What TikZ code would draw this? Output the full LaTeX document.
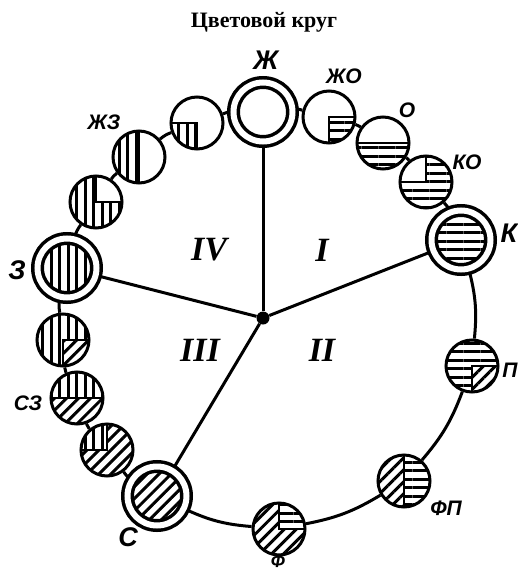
\documentclass[tikz,border=0pt]{standalone}
\usepackage{fontspec}
\setmainfont{Liberation Serif}
\newfontfamily\lblfont{Liberation Sans}
\usepackage{tikz}
\usetikzlibrary{patterns.meta,backgrounds}

% hatching of one part of a circle
\newcommand\hatchpart[4][]{%
  \fill[white] (path picture bounding box.#3) rectangle (path picture bounding box.#4);
  \path[pattern={Lines[angle=#2,distance=8.5pt,line width=3pt]},#1]
    (path picture bounding box.#3) rectangle (path picture bounding box.#4);}
\newcommand\blankpart[2]{%
  \fill[white,draw=black,line width=2.5pt]
    (path picture bounding box.#1) rectangle (path picture bounding box.#2);}

\begin{document}
\begin{tikzpicture}
        [
            x = 1pt, y = 1pt,
            mixc/.style = {circle, draw, fill=white, line width=3pt, inner sep=0pt, minimum size=52pt},
            mainc/.style = {circle, draw, fill=white, double=white, double distance=6pt,
                            line width=3.5pt, inner sep=0pt, minimum size=59pt},
            qline/.style = {draw=black, line width=2.5pt},
            ring/.style = {line width=3pt},
            lbl/.style = {font=\lblfont\bfseries\itshape\fontsize{21}{21}\selectfont, inner sep=0pt},
            biglbl/.style = {font=\lblfont\bfseries\itshape\fontsize{27}{27}\selectfont, inner sep=0pt},
            part/.style = {font=\bfseries\itshape\fontsize{34}{34}\selectfont, inner sep=0pt}
        ]
        \useasboundingbox (0,0) rectangle (518,-573);

        \node[font=\bfseries\fontsize{22}{22}\selectfont] (title) at (264,-22) {Цветовой круг};

        % colours round the ring
        \node[mainc] (Zh) at (263,-112) {};
        \node[mixc, path picture={\hatchpart[qline]{0}{center}{south east}}] (ZhO) at (329,-117) {};
        \node[mixc, path picture={\hatchpart[qline]{0}{west}{south east}}] (Or) at (383,-143) {};
        \node[mixc, path picture={\hatchpart{0}{north west}{south east}\blankpart{center}{north west}}] (KO) at (426,-182) {};
        \node[mainc, path picture={\hatchpart{0}{north west}{south east}}] (K) at (461,-240) {};
        \node[mixc, path picture={\hatchpart{0}{north west}{south east}\hatchpart[qline]{45}{center}{south east}}] (P) at (472,-366) {};
        \node[mixc, path picture={\hatchpart{0}{north west}{south east}\hatchpart[qline]{45}{north west}{south}}] (FP) at (404,-481) {};
        \node[mixc, path picture={\hatchpart{45}{north west}{south east}\hatchpart[qline]{0}{center}{north east}}] (F) at (279,-529) {};
        \node[mainc, path picture={\hatchpart{45}{north west}{south east}}] (S) at (157,-496) {};
        \node[mixc, path picture={\hatchpart{45}{north west}{south east}\hatchpart[qline]{90}{center}{north west}}] (SSZ) at (107,-450) {};
        \node[mixc, path picture={\hatchpart{45}{north west}{south east}\hatchpart[qline]{90}{west}{north east}}] (SZ) at (77,-398) {};
        \node[mixc, path picture={\hatchpart{90}{north west}{south east}\hatchpart[qline]{45}{center}{south east}}] (ZSZ) at (63,-340) {};
        \node[mainc, path picture={\hatchpart{90}{north west}{south east}}] (Z) at (67,-268) {};
        \node[mixc, path picture={\hatchpart{90}{north west}{south east}\blankpart{center}{north east}}] (ZZhZ) at (96,-202) {};
        \node[mixc, path picture={\hatchpart[qline]{90}{north west}{south}}] (ZhZ) at (139,-157) {};
        \node[mixc, path picture={\hatchpart[qline]{90}{center}{south west}}] (ZhZhZ) at (197,-123) {};

        \node[circle, fill, inner sep=0pt, minimum size=13pt] (ctr) at (263,-318) {};

        % names
        \node[biglbl] (tZh) at (266,-60) {Ж};
        \node[lbl] (tZhO) at (344,-76) {ЖО};
        \node[lbl] (tOr) at (407,-110) {О};
        \node[lbl] (tKO) at (467,-162) {КО};
        \node[biglbl] (tK) at (509,-233) {К};
        \node[lbl] (tP) at (510,-370) {П};
        \node[lbl] (tFP) at (446,-508) {ФП};
        \node[lbl, font=\lblfont\bfseries\itshape\fontsize{18}{18}\selectfont] (tF) at (278,-561) {Ф};
        \node[biglbl] (tS) at (128,-537) {С};
        \node[lbl] (tSZ) at (28,-403) {СЗ};
        \node[biglbl] (tZ) at (17,-270) {З};
        \node[lbl] (tZhZ) at (104,-122) {ЖЗ};

        \node[part] (pI) at (322,-250) {I};
        \node[part] (pII) at (322,-350) {II};
        \node[part] (pIII) at (200,-350) {III};
        \node[part] (pIV) at (209,-250) {IV};

        \begin{scope}[on background layer]
            \foreach \c in {Zh, K, Z, S}
                \draw[ring] (ctr) -- (\c);
            \foreach \a/\b in {Zh/ZhO, ZhO/Or, Or/KO, KO/K, K/P, P/FP, FP/F, F/S, S/SSZ, SSZ/SZ,
                               SZ/ZSZ, ZSZ/Z, Z/ZZhZ, ZZhZ/ZhZ, ZhZ/ZhZhZ, ZhZhZ/Zh}
                \draw[ring] (\a) to[bend left=10] (\b);
        \end{scope}
\end{tikzpicture}
\end{document}
